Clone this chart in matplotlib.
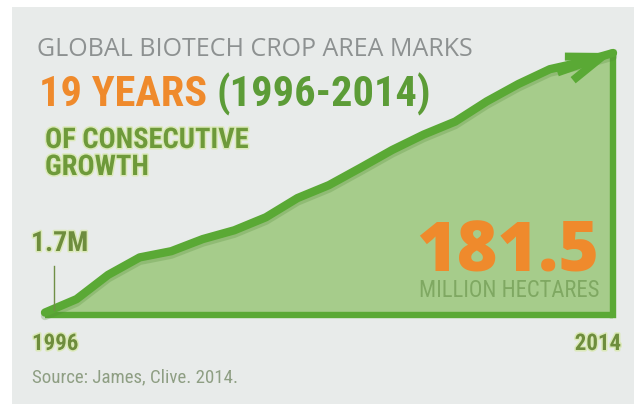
import matplotlib
matplotlib.use("Agg")
import matplotlib.pyplot as plt
import matplotlib.patheffects as pe
from matplotlib.patches import Rectangle

# global biotech crop area, million hectares (ISAAA)
years = list(range(1996, 2015))
area = [1.7, 11.0, 27.8, 39.9, 44.2, 52.6, 58.7, 67.7, 81.0, 90.0,
        102.0, 114.3, 125.0, 134.0, 148.0, 160.0, 170.3, 175.2, 181.5]

W, H = 642, 404
BG = "#e8ebea"
LINE = "#5aa935"
FILL = "#a6cc8b"
ORANGE = "#ef8a2c"
NARROW = ["Roboto Condensed", "Open Sans Condensed", "DejaVu Sans"]


def px(x, y):
    # pixel position (from top-left) -> figure fraction
    return x / W, 1 - y / H


fig = plt.figure(figsize=(W / 100, H / 100), dpi=100)
fig.patch.set_facecolor("white")
fig.patches.append(Rectangle(px(12, 404), 622 / W, 397 / H, transform=fig.transFigure,
                             facecolor=BG, edgecolor="none", zorder=-5))

# plot area: first year at x=45px, last at 613px; 0 at y=315px, max at y=53px
ax = fig.add_axes([45 / W, 1 - 315 / H, 568 / W, 262 / H])
ax.set_xlim(years[0], years[-1])
ax.set_ylim(0, area[-1])
ax.axis("off")

ax.fill_between(years, area, 0, color=FILL, lw=0, zorder=1)
ax.plot([years[0], years[-1]], [0, 0], color=LINE, lw=4.6, solid_capstyle="butt",
        clip_on=False, zorder=2)
ax.plot([years[-1], years[-1]], [0, area[-1]], color=LINE, lw=4.6,
        solid_capstyle="projecting", clip_on=False, zorder=2)
ax.plot(years, area, color=LINE, lw=6, solid_capstyle="round", solid_joinstyle="round",
        clip_on=False, zorder=3,
        path_effects=[pe.SimpleLineShadow(offset=(0, -2.5), shadow_color="#4f8a33", alpha=0.25),
                      pe.Normal()])
ax.annotate("", xy=(years[-1], area[-1]), xytext=(-40, -14), textcoords="offset points",
            arrowprops=dict(arrowstyle="->,head_length=2.5,head_width=0.9", color=LINE,
                            lw=5.8, shrinkA=0, shrinkB=0, joinstyle="miter",
                            capstyle="butt"), zorder=4, annotation_clip=False)

# 1.7M marker
ax.plot([years[0] + 0.3, years[0] + 0.3], [area[0] + 2, 34], color="#6f8f45", lw=1.0, zorder=4)

glow = [pe.withStroke(linewidth=2.2, foreground="#dbe9b8")]
cond = dict(family=NARROW, stretch="condensed")

fig.text(*px(37, 56), "GLOBAL BIOTECH CROP AREA MARKS", family="Open Sans", fontsize=18,
         color="#8d9191", va="baseline", ha="left")
t1 = fig.text(*px(39, 106), f"{len(years)} YEARS", weight="bold",
              fontsize=30.5, color=ORANGE, va="baseline", ha="left", **cond)
fig.canvas.draw()
bb = t1.get_window_extent()
fig.text(bb.x1 / W + 9 / W, 1 - 106 / H, f"({years[0]}-{years[-1]})",
         weight="bold", fontsize=30.5, color="#5c9c37", va="baseline", ha="left", **cond)

fig.text(*px(45, 148), "OF CONSECUTIVE", weight="bold", fontsize=20.5,
         color="#6e9a3a", va="baseline", ha="left", path_effects=glow, **cond)
fig.text(*px(45, 175), "GROWTH", weight="bold", fontsize=20.5,
         color="#6e9a3a", va="baseline", ha="left", path_effects=glow, **cond)

fig.text(*px(31, 251), f"{area[0]}M", weight="bold", fontsize=20,
         color="#6e8d3d", va="baseline", ha="left", path_effects=glow, **cond)
fig.text(*px(599, 272), f"{area[-1]}", family="Open Sans", weight="heavy", fontsize=50,
         color=ORANGE, va="baseline", ha="right")
fig.text(*px(599, 297), "MILLION HECTARES", fontsize=16.3,
         color="#7fa862", va="baseline", ha="right", **cond)

fig.text(*px(32, 350), str(years[0]), weight="bold", fontsize=16.5,
         color="#6e8d3d", va="baseline", ha="left", path_effects=glow, **cond)
fig.text(*px(621, 350), str(years[-1]), weight="bold", fontsize=16.5,
         color="#6e8d3d", va="baseline", ha="right", path_effects=glow, **cond)
fig.text(*px(32, 382), "Source: James, Clive. 2014.", fontsize=13.6,
         color="#8e9e83", va="baseline", ha="left", **cond)

fig.savefig("out.png", dpi=100, facecolor=fig.get_facecolor())
